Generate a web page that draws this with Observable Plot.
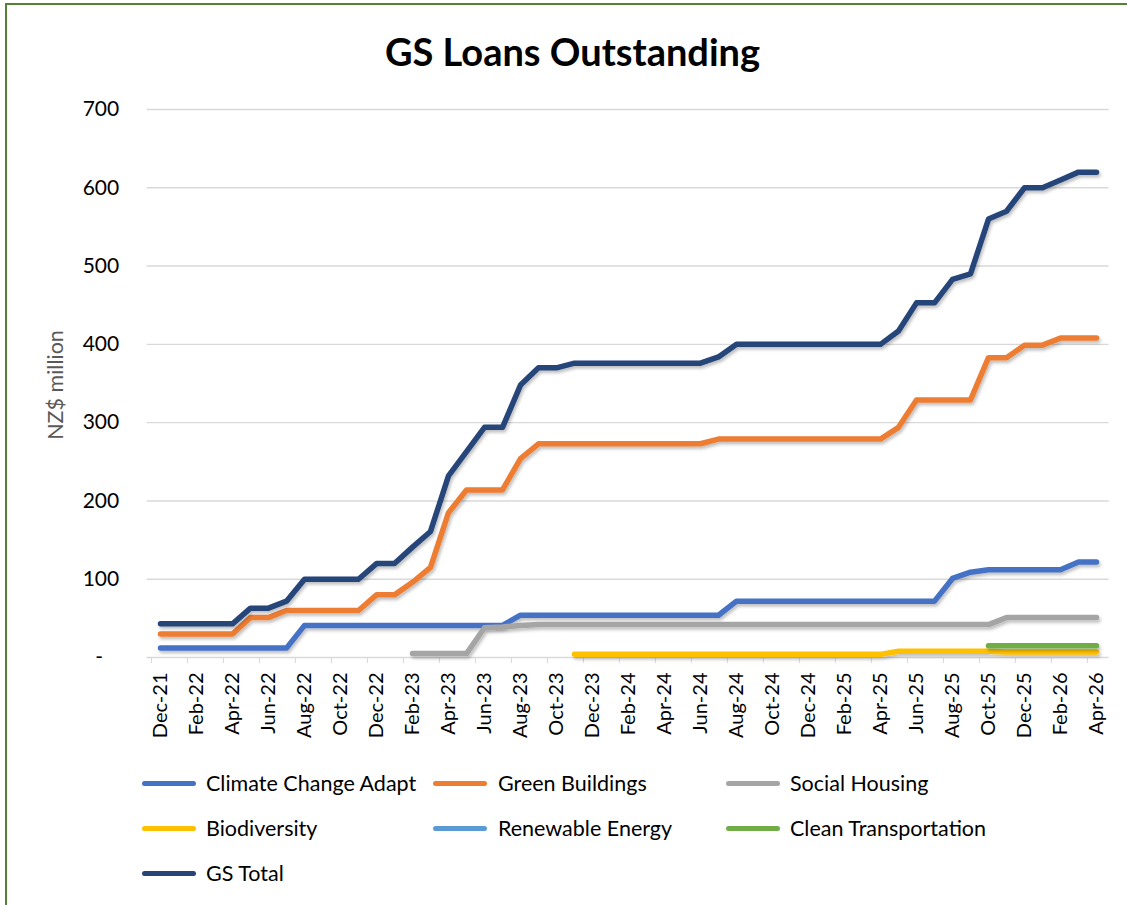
<!DOCTYPE html>
<html>
<head>
<meta charset="utf-8">
<script src="https://cdn.jsdelivr.net/npm/d3@7"></script>
<script src="https://cdn.jsdelivr.net/npm/@observablehq/plot@0.6"></script>
<style>
html, body { margin: 0; padding: 0; background: #fff; overflow: hidden; }
#frame { position: relative; width: 1127px; height: 905px; overflow: hidden; font-family: Lato, "Open Sans", sans-serif; background: #fff; }
#border { position: absolute; left: 5px; top: 3px; width: 1150px; height: 930px; border: 2px solid #548235; box-sizing: border-box; z-index: 10; pointer-events: none; }
#title { position: absolute; left: 9px; top: 28px; width: 1127px; text-align: center; font-weight: bold; font-size: 38px; line-height: 46px; color: #000; z-index: 5; }
#ylabel { position: absolute; left: -45px; top: 372px; width: 200px; height: 26px; line-height: 26px; text-align: center; font-size: 21.5px; color: #595959; transform: rotate(-90deg); z-index: 5; }
#chart { position: absolute; left: 0; top: 80px; z-index: 1; }
.lg-sw { position: absolute; height: 5px; border-radius: 3px; }
.lg-tx { position: absolute; font-size: 21.5px; line-height: 26px; color: #000; white-space: nowrap; }
</style>
</head>
<body>
<div id="frame">
  <div id="chart"></div>
  <div id="title">GS Loans Outstanding</div>
  <div id="ylabel">NZ$ million</div>
  <div id="legend"></div>
  <div id="border"></div>
</div>
<script>
// ---- Data ----
const months = [
  "Dec-21","Jan-22","Feb-22","Mar-22","Apr-22","May-22","Jun-22","Jul-22","Aug-22","Sep-22","Oct-22","Nov-22",
  "Dec-22","Jan-23","Feb-23","Mar-23","Apr-23","May-23","Jun-23","Jul-23","Aug-23","Sep-23","Oct-23","Nov-23",
  "Dec-23","Jan-24","Feb-24","Mar-24","Apr-24","May-24","Jun-24","Jul-24","Aug-24","Sep-24","Oct-24","Nov-24",
  "Dec-24","Jan-25","Feb-25","Mar-25","Apr-25","May-25","Jun-25","Jul-25","Aug-25","Sep-25","Oct-25","Nov-25",
  "Dec-25","Jan-26","Feb-26","Mar-26","Apr-26"
];

const seriesNames = ["Climate Change Adapt","Green Buildings","Social Housing","Biodiversity","Renewable Energy","Clean Transportation","GS Total"];
const seriesColors = ["#4472C4","#ED7D31","#A5A5A5","#FFC000","#5B9BD5","#70AD47","#264478"];

const climateChangeAdapt = [
  12,12,12,12,12,12,12,12,41,41,41,41,
  41,41,41,41,41,41,41,41,54,54,54,54,
  54,54,54,54,54,54,54,54,72,72,72,72,
  72,72,72,72,72,72,72,72,101,109,112,112,
  112,112,112,122,122
];
const greenBuildings = [
  30,30,30,30,30,51,51,60,60,60,60,60,
  80,80,96,115,185,214,214,214,254,273,273,273,
  273,273,273,273,273,273,273,279,279,279,279,279,
  279,279,279,279,279,294,329,329,329,329,383,383,
  399,399,408,408,408
];
const socialHousing = [
  null,null,null,null,null,null,null,null,null,null,null,null,
  null,null,5,5,5,5,38,39,41,42,42,42,
  42,42,42,42,42,42,42,42,42,42,42,42,
  42,42,42,42,42,42,42,42,42,42,42,51,
  51,51,51,51,51
];
const biodiversity = [
  null,null,null,null,null,null,null,null,null,null,null,null,
  null,null,null,null,null,null,null,null,null,null,null,4,
  4,4,4,4,4,4,4,4,4,4,4,4,
  4,4,4,4,4,8,8,8,8,8,8,7,
  7,7,7,7,7
];
const renewableEnergy = [];
const cleanTransportation = [
  null,null,null,null,null,null,null,null,null,null,null,null,
  null,null,null,null,null,null,null,null,null,null,null,null,
  null,null,null,null,null,null,null,null,null,null,null,null,
  null,null,null,null,null,null,null,null,null,null,15,15,
  15,15,15,15,15
];
const gsTotal = [
  43,43,43,43,43,63,63,72,100,100,100,100,
  120,120,141,161,232,263,294,294,348,370,370,376,
  376,376,376,376,376,376,376,384,400,400,400,400,
  400,400,400,400,400,417,453,453,483,490,560,570,
  600,600,610,620,620
];

const yTicks = [0,100,200,300,400,500,600,700];

// ---- Build table ----
const seriesValues = [climateChangeAdapt, greenBuildings, socialHousing, biodiversity, renewableEnergy, cleanTransportation, gsTotal];
const rows = [];
seriesNames.forEach((name, s) => {
  seriesValues[s].forEach((v, i) => {
    if (v != null) rows.push({series: name, month: months[i], value: v});
  });
});

const W = 1127, H = 680, ML = 146.7, MR = 18.4, MT = 29, MB = 103;
const step = (W - ML - MR) / months.length;
const labelMonths = months.filter((_, i) => i % 2 === 0);

const chart = Plot.plot({
  width: W,
  height: H,
  marginLeft: ML,
  marginRight: MR,
  marginTop: MT,
  marginBottom: MB,
  style: {fontFamily: "Lato, 'Open Sans', sans-serif", fontSize: "20px", color: "#000", background: "transparent", overflow: "visible"},
  x: {type: "point", domain: months, padding: 0.5},
  y: {domain: [0, 700]},
  color: {domain: seriesNames, range: seriesColors},
  marks: [
    Plot.ruleY(yTicks, {stroke: "#D9D9D9", strokeWidth: 1.4}),
    Plot.axisY({ticks: yTicks, tickSize: 0, tickPadding: 28, fontSize: 21, label: null,
      tickFormat: d => d === 0 ? "-\u00a0\u00a0\u00a0" : String(d)}),
    Plot.axisX({ticks: labelMonths, tickSize: 6, tickFormat: () => "", dx: -step / 2, stroke: "#D9D9D9", label: null}),
    Plot.axisX({ticks: labelMonths, tickSize: 0, tickPadding: 15, tickRotate: -90, fontSize: 20, label: null}),
    Plot.line(rows, {x: "month", y: "value", z: "series", stroke: "series",
      strokeWidth: 5.5, strokeLinecap: "round", strokeLinejoin: "round"})
  ]
});
document.getElementById("chart").appendChild(chart);

// subtle Excel-like shadow on the lines (region in user space so flat lines are not clipped)
const svgNS = "http://www.w3.org/2000/svg";
const defs = document.createElementNS(svgNS, "defs");
defs.innerHTML = '<filter id="shadow" filterUnits="userSpaceOnUse" x="0" y="0" width="' + W + '" height="' + H + '"><feDropShadow dx="1.5" dy="2.5" stdDeviation="1.5" flood-color="#000" flood-opacity="0.25"/></filter>';
chart.insertBefore(defs, chart.firstChild);
chart.querySelectorAll('g[aria-label="line"] path').forEach(p => p.setAttribute("filter", "url(#shadow)"));

// ---- Legend ----
const legendRows = [783, 828, 873];
const legendSwatchX = [142, 433, 726];
const legendTextX = [206, 498, 790];
const lg = document.getElementById("legend");
seriesNames.forEach((name, k) => {
  const r = Math.floor(k / 3), c = k % 3;
  const sw = document.createElement("div");
  sw.className = "lg-sw";
  sw.style.left = legendSwatchX[c] + "px";
  sw.style.width = "54px";
  sw.style.top = (legendRows[r] - 2.5) + "px";
  sw.style.background = seriesColors[k];
  lg.appendChild(sw);
  const tx = document.createElement("div");
  tx.className = "lg-tx";
  tx.style.left = legendTextX[c] + "px";
  tx.style.top = (legendRows[r] - 13) + "px";
  tx.textContent = name;
  lg.appendChild(tx);
});
</script>
</body>
</html>
